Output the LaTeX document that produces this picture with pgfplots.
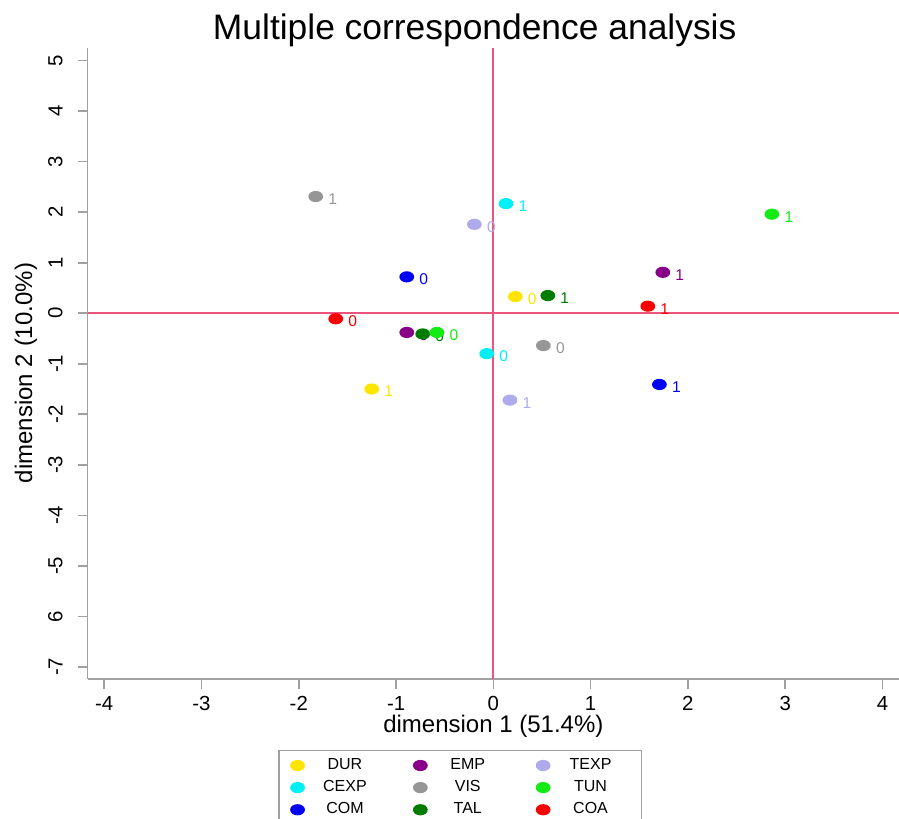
\documentclass[border=0pt]{standalone}
\usepackage{fontspec}
\setmainfont{Liberation Sans}
\usepackage{pgfplots}
\pgfplotsset{compat=1.18}
\usetikzlibrary{calc}

\definecolor{cDUR}{RGB}{255,228,0}
\definecolor{cCEXP}{RGB}{0,240,245}
\definecolor{cCOM}{RGB}{0,0,245}
\definecolor{cEMP}{RGB}{135,0,135}
\definecolor{cVIS}{RGB}{150,150,150}
\definecolor{cTAL}{RGB}{0,125,0}
\definecolor{cTEXP}{RGB}{175,170,235}
\definecolor{cTUN}{RGB}{20,235,20}
\definecolor{cCOA}{RGB}{250,0,0}
\definecolor{refline}{RGB}{235,85,125}
\definecolor{axgray}{RGB}{160,160,160}

% R-style filled ellipse
\pgfdeclareplotmark{ell}{%
  \pgfpathellipse{\pgfpointorigin}{\pgfqpoint{3.7pt}{0pt}}{\pgfqpoint{0pt}{2.8pt}}%
  \pgfusepathqfill}

\pgfplotsset{
  mca/.style={only marks, mark=ell, color=#1,
    nodes near coords, point meta=explicit symbolic,
    every node near coord/.append style={text=#1}},
}

\begin{document}
\begin{tikzpicture}
\begin{axis}[
  scale only axis, width=405.65pt, height=315.5pt,
  xmin=-4.17, xmax=4.17, ymin=-7.24, ymax=5.25,
  axis x line*=bottom, axis y line*=left,
  axis line style={-, draw=axgray, line width=0.8pt},
  tick align=outside, major tick length=5pt,
  tick style={draw=axgray, line width=0.8pt},
  xtick={-4,...,4}, xticklabels={-4,-3,-2,-1,0,1,2,3,4},
  ytick={-7,...,5}, yticklabels={-7,6,-5,-4,-3,-2,-1,0,1,2,3,4,5},
  tick label style={font=\fontsize{10.2}{12}\selectfont},
  yticklabel style={rotate=90, anchor=south},
  yticklabel shift=4pt,
  title={Multiple correspondence analysis},
  title style={at={(axis description cs:0.477,1)}, anchor=base, yshift=-2pt,
    font=\fontsize{17.7}{21}\selectfont},
  xlabel={dimension 1 (51.4\%)},
  xlabel style={at={(axis description cs:0.5,0)}, anchor=base, yshift=-26.5pt,
    font=\fontsize{12}{14}\selectfont},
  ylabel={dimension 2 (10.0\%)},
  ylabel style={at={(axis description cs:-0.076,0.485)}, anchor=center, rotate=0,
    font=\fontsize{12}{14}\selectfont},
  nodes near coords style={anchor=center, xshift=8.5pt, yshift=-1.3pt,
    font=\fontsize{7.8}{9}\selectfont},
  legend columns=3, transpose legend,
  legend style={at={(axis description cs:0.235,-0.112)}, anchor=north west,
    draw=axgray, line width=0.8pt, fill=white,
    font=\fontsize{8}{9.6}\selectfont, inner xsep=5.5pt, inner ysep=2pt,
    /tikz/every even column/.append style={column sep=14pt, text width=36pt, align=center},
    /tikz/column 6/.append style={text width=30pt}},
]
\coordinate (SW) at (rel axis cs:0,0);
\coordinate (NE) at (rel axis cs:1,1);

\addplot[refline, line width=1pt, forget plot] coordinates {(0,-7.24) (0,5.25)};
\addplot[refline, line width=1pt, forget plot] coordinates {(-4.17,0) (4.17,0)};

\addplot[mca=cDUR] table[meta=lab] {
x y lab
0.226 0.33 0
-1.25 -1.50 1
};
\addlegendentry{DUR}
\addplot[mca=cCEXP] table[meta=lab] {
x y lab
-0.068 -0.80 0
0.13 2.17 1
};
\addlegendentry{CEXP}
\addplot[mca=cCOM] table[meta=lab] {
x y lab
-0.89 0.72 0
1.707 -1.41 1
};
\addlegendentry{COM}
\addplot[mca=cEMP] table[meta=lab] {
x y lab
-0.89 -0.38 0
1.742 0.81 1
};
\addlegendentry{EMP}
\addplot[mca=cVIS] table[meta=lab] {
x y lab
0.514 -0.64 0
-1.826 2.31 1
};
\addlegendentry{VIS}
\addplot[mca=cTAL] table[meta=lab] {
x y lab
-0.726 -0.41 0
0.56 0.35 1
};
\addlegendentry{TAL}
\addplot[mca=cTEXP] table[meta=lab] {
x y lab
-0.195 1.76 0
0.17 -1.72 1
};
\addlegendentry{TEXP}
\addplot[mca=cTUN] table[meta=lab] {
x y lab
-0.58 -0.38 0
2.863 1.96 1
};
\addlegendentry{TUN}
\addplot[mca=cCOA] table[meta=lab] {
x y lab
-1.62 -0.11 0
1.588 0.14 1
};
\addlegendentry{COA}
\end{axis}
\pgfresetboundingbox
\path[use as bounding box] ($(SW)+(-43.85pt,-69.5pt)$) rectangle ($(NE)+(0pt,24pt)$);
\end{tikzpicture}
\end{document}
